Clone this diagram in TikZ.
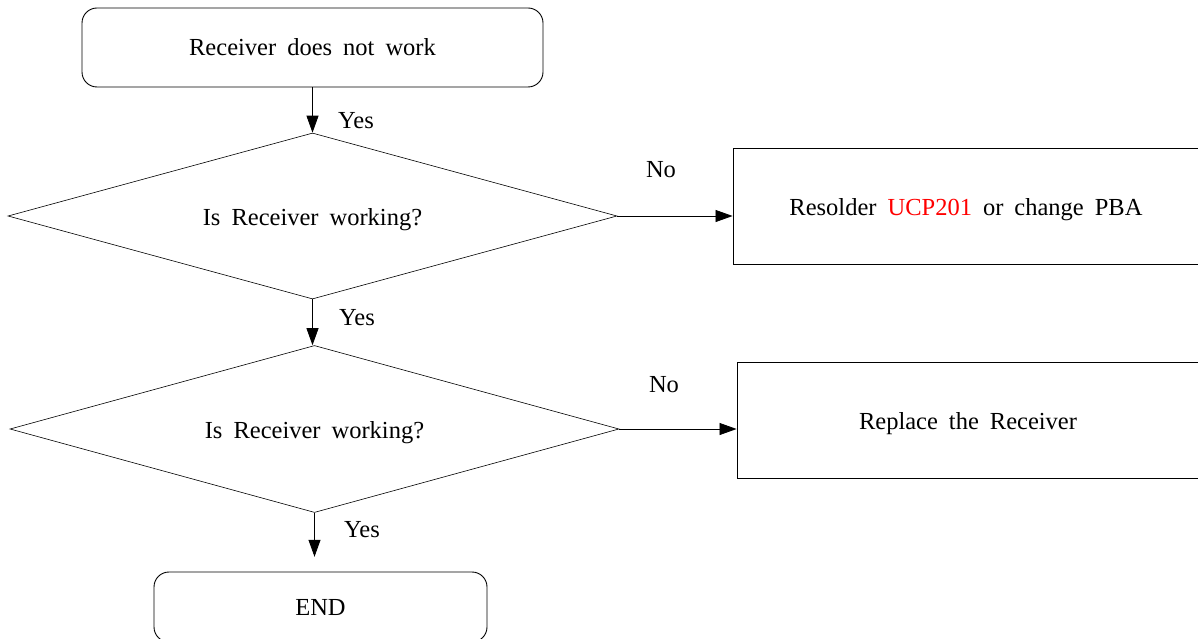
\documentclass[tikz,border=0pt]{standalone}
\usepackage{fontspec}
\setmainfont{Liberation Serif}[WordSpace=1.8]
\usetikzlibrary{arrows.meta, shapes.geometric}

\begin{document}
\begin{tikzpicture}[x=1pt, y=-1pt,
  every node/.style={font=\fontsize{24.5}{28}\selectfont},
  termbox/.style={draw, line width=0.9pt, rounded corners=15pt, inner sep=0pt},
  actbox/.style={draw, line width=0.9pt, inner sep=0pt, text height=25pt},
  testbox/.style={draw, diamond, line width=0.6pt, inner sep=0pt, aspect=3.67, text height=25pt},
  flow/.style={-{Triangle[length=17pt,width=12pt]}, line width=0.8pt}]
\useasboundingbox (0,0) rectangle (1198,639);
% start and end
\node [termbox, minimum width=461pt, minimum height=79pt] (start) at (312.5,47.5)  {Receiver does not work};
\node [termbox, minimum width=333pt, minimum height=70pt] (finish) at (320.5,607)  {END};
% checks
\node [testbox, minimum width=609pt, minimum height=166pt] (test1) at (312.5,216)  {Is Receiver working?};
\node [testbox, minimum width=609pt, minimum height=167pt] (test2) at (314.5,429)  {Is Receiver working?};
% repairs
\node [actbox, minimum width=466pt, minimum height=116pt] (fix1) at (966,206)  {Resolder \textcolor{red}{UCP201} or change PBA};
\node [actbox, minimum width=462pt, minimum height=116pt] (fix2) at (968,420)  {Replace the Receiver};
\path (test2.south) ++(0,44) coordinate (endtip);
% connectors
\draw [flow] (start.south -| test1.north) -- (test1.north);
\draw [flow] (test1.south) -- (test1.south |- test2.north);
\draw [flow] (test2.south) -- (endtip);
\draw [flow] (test1.east) -- (test1.east -| fix1.west);
\draw [flow] (test2.east) -- (test2.east -| fix2.west);
% labels
\node (yes1) at (356,121)  {Yes};
\node (yes2) at (357,318)  {Yes};
\node (yes3) at (362,530)  {Yes};
\node (no1)  at (661,170)  {No};
\node (no2)  at (664,385)  {No};
\end{tikzpicture}
\end{document}
